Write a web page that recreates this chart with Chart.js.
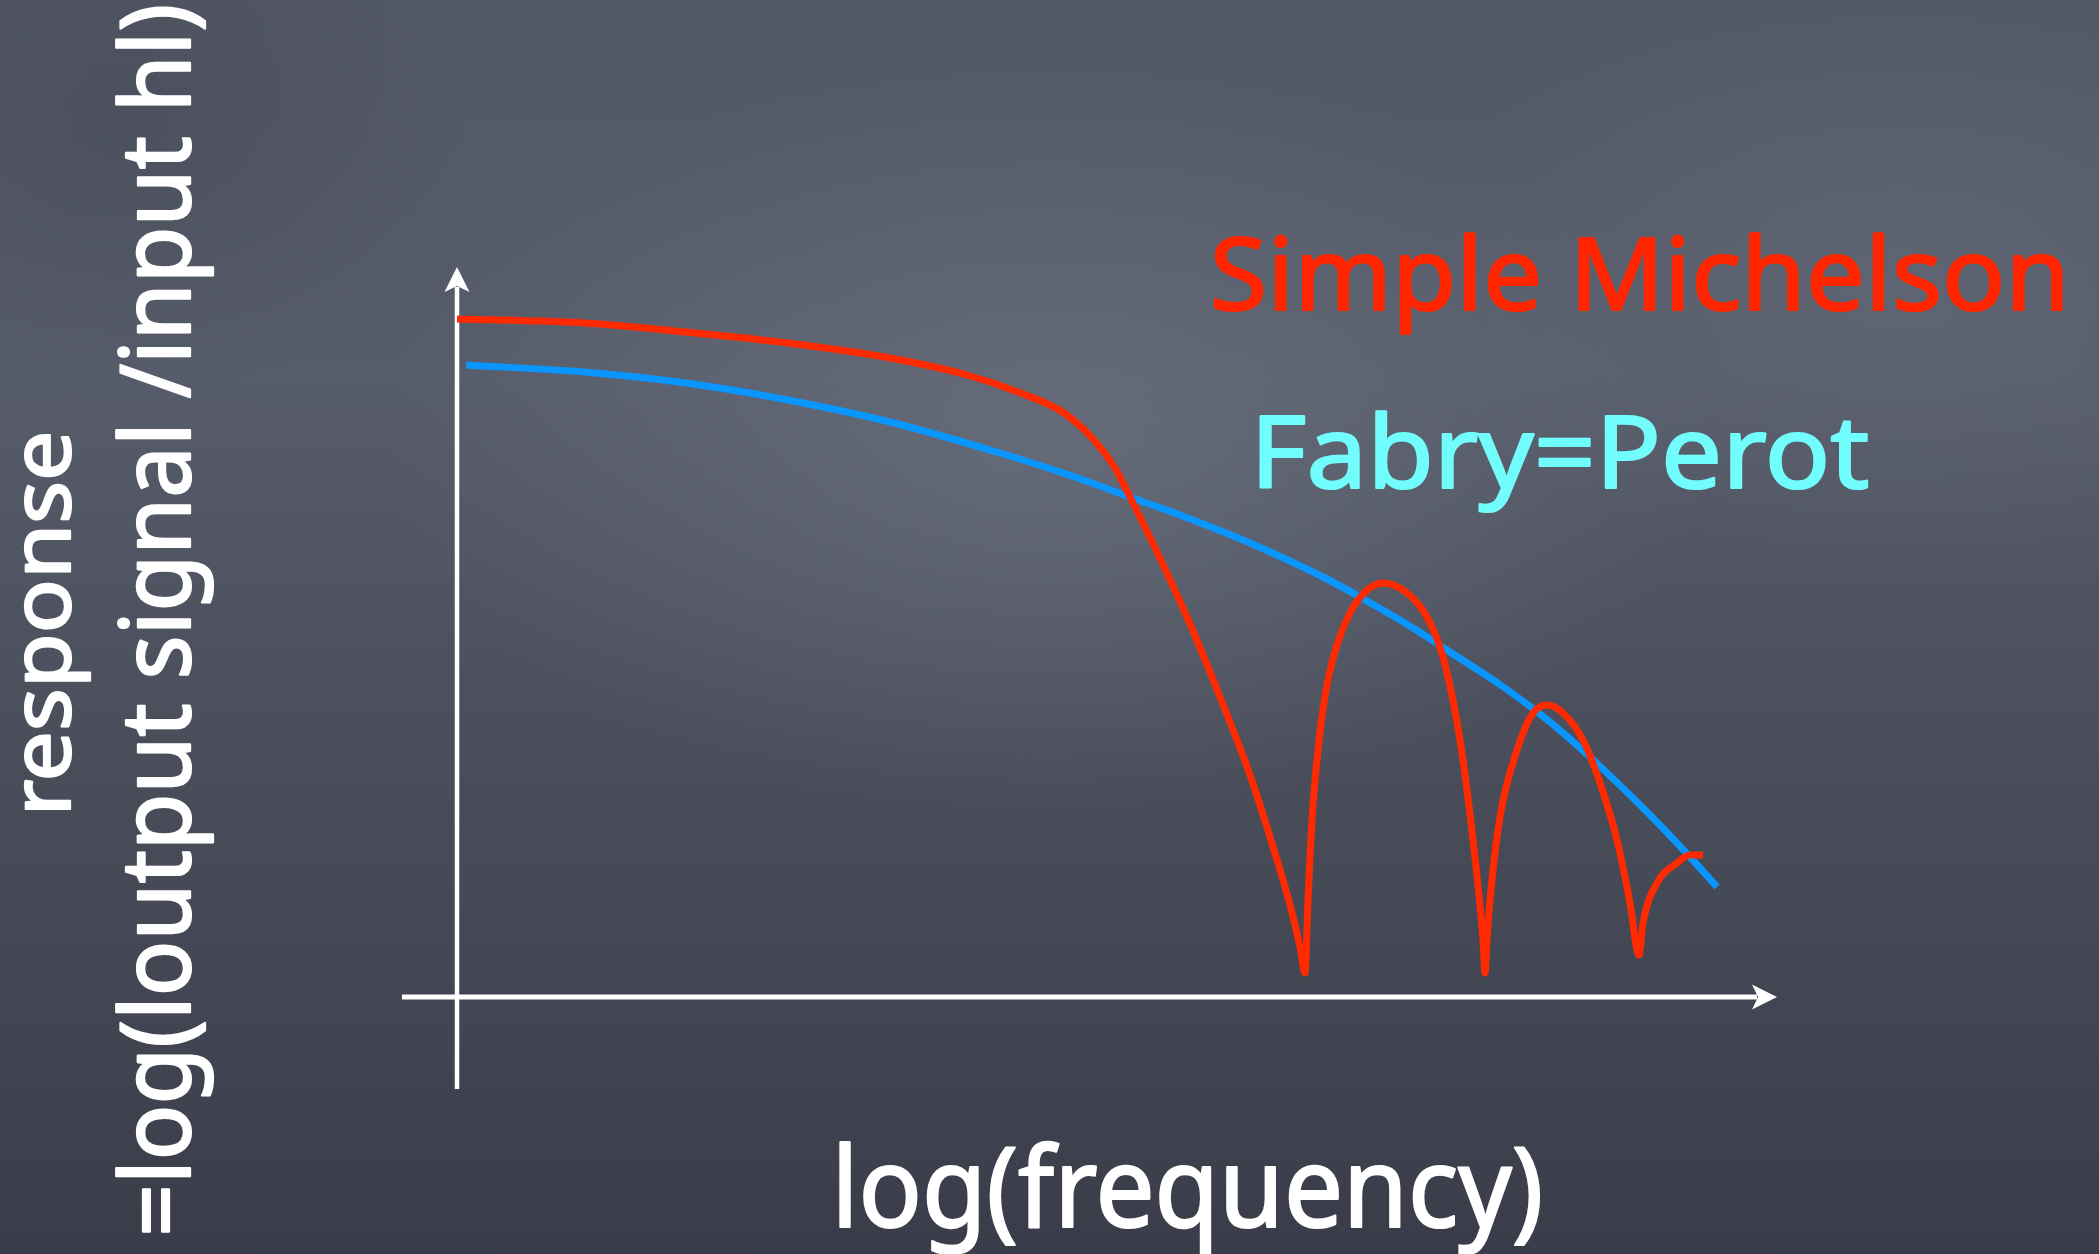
<!DOCTYPE html>
<html>
<head>
<meta charset="utf-8">
<title>Simple Michelson vs Fabry=Perot response</title>
<script src="https://cdn.jsdelivr.net/npm/chart.js@4.4.0/dist/chart.umd.min.js"></script>
<style>
  html, body { margin: 0; padding: 0; width: 2099px; height: 1254px; overflow: hidden; }
  body {
    background:
      radial-gradient(ellipse 950px 540px at 1050px 440px, rgba(112,118,132,0.6), rgba(112,118,132,0) 70%),
      radial-gradient(ellipse 700px 420px at 1900px 280px, rgba(106,112,126,0.45), rgba(106,112,126,0) 70%),
      radial-gradient(ellipse 500px 400px at 120px 120px, rgba(60,64,76,0.35), rgba(60,64,76,0) 70%),
      linear-gradient(to bottom, #535866 0%, #575c6a 30%, #494d5a 62%, #3a3d49 100%);
  }
  canvas { display: block; }
</style>
</head>
<body>
<canvas id="chart" width="2099" height="1254"></canvas>
<script>
// log(frequency) in arbitrary units, 0 sits on the vertical axis
const michelsonFreq = [0.00, 1.27, 2.29, 3.31, 4.33, 5.10, 5.61, 6.07, 6.37, 6.58, 6.73, 7.00, 7.33, 7.63, 7.93, 8.13, 8.33, 8.43, 8.48,
  8.51, 8.55, 8.61, 8.69, 8.80, 8.93, 9.08, 9.26, 9.50, 9.70, 9.86, 10.03, 10.16, 10.26, 10.28,
  10.30, 10.33, 10.43, 10.60, 10.76, 10.90, 11.06, 11.26, 11.43, 11.60, 11.73, 11.82,
  11.86, 12.00, 12.20, 12.33, 12.46];
const michelsonResp = [6.78, 6.74, 6.65, 6.54, 6.39, 6.22, 6.05, 5.84, 5.57, 5.29, 5.00, 4.45, 3.73, 3.00, 2.22, 1.60, 0.92, 0.50, 0.24,
  0.97, 1.77, 2.47, 3.07, 3.52, 3.84, 4.05, 4.14, 4.04, 3.80, 3.40, 2.57, 1.57, 0.57, 0.24,
  0.57, 0.97, 1.80, 2.47, 2.84, 2.92, 2.84, 2.57, 2.14, 1.57, 0.94, 0.42,
  0.74, 1.14, 1.34, 1.42, 1.42];

const fabryFreq = [0.09, 1.27, 2.29, 3.31, 4.33, 5.43, 6.12, 6.73, 7.23, 7.93, 8.66, 9.03, 9.56, 9.93, 10.45, 10.93, 11.33, 11.93, 12.33, 12.60];
const fabryResp = [6.32, 6.25, 6.14, 5.97, 5.75, 5.44, 5.22, 5.00, 4.82, 4.54, 4.20, 4.00, 3.69, 3.45, 3.11, 2.75, 2.40, 1.82, 1.40, 1.10];

const seriesNames = ['Simple Michelson', 'Fabry=Perot'];
const seriesColors = ['#ff2a00', '#0a96ff'];
const labelColors = ['#ff2600', '#72fdfd'];
const xTitle = 'log(frequency)';
const yTitle = ['response', '=log(loutput signal /input hl)'];

const FONT = '"Noto Sans", "DejaVu Sans", sans-serif';

function toPoints(xs, ys) {
  return xs.map((x, i) => ({ x: x, y: ys[i] }));
}

// draws text along the current baseline, sized by ascent and stretched to a length
function fitText(ctx, text, length, ascent, color) {
  ctx.font = '100px ' + FONT;
  let m = ctx.measureText(text);
  const size = 100 * ascent / m.actualBoundingBoxAscent;
  ctx.font = size.toFixed(1) + 'px ' + FONT;
  m = ctx.measureText(text);
  const w = m.actualBoundingBoxLeft + m.actualBoundingBoxRight;
  ctx.scale(length / w, 1);
  ctx.fillStyle = color;
  ctx.strokeStyle = color;
  ctx.lineWidth = 2.2;
  ctx.lineJoin = 'round';
  ctx.textBaseline = 'alphabetic';
  ctx.fillText(text, m.actualBoundingBoxLeft, 0);
  ctx.strokeText(text, m.actualBoundingBoxLeft, 0);
}

function arrowHead(ctx, tx, ty, dx, dy) {
  // dx,dy: unit direction of the arrow
  const len = 25, half = 12.5, notch = 19;
  const px = -dy, py = dx;
  ctx.beginPath();
  ctx.moveTo(tx, ty);
  ctx.lineTo(tx - dx * len + px * half, ty - dy * len + py * half);
  ctx.lineTo(tx - dx * notch, ty - dy * notch);
  ctx.lineTo(tx - dx * len - px * half, ty - dy * len - py * half);
  ctx.closePath();
  ctx.fill();
}

const axesPlugin = {
  id: 'chalkAxes',
  beforeDatasetsDraw(chart) {
    const { ctx, scales: { x, y } } = chart;
    const x0 = x.getPixelForValue(0);
    const y0 = y.getPixelForValue(0);
    ctx.save();
    ctx.strokeStyle = '#ffffff';
    ctx.fillStyle = '#ffffff';
    ctx.lineWidth = 4.5;
    ctx.beginPath();
    ctx.moveTo(x0, y.bottom);
    ctx.lineTo(x0, y.top + 20);
    ctx.stroke();
    ctx.lineWidth = 5;
    ctx.beginPath();
    ctx.moveTo(x.left, y0);
    ctx.lineTo(x.right - 20, y0);
    ctx.stroke();
    arrowHead(ctx, x0, y.top, 0, -1);
    arrowHead(ctx, x.right, y0, 1, 0);
    ctx.restore();
  }
};

const labelsPlugin = {
  id: 'chalkLabels',
  afterDraw(chart) {
    const ctx = chart.ctx;

    ctx.save();
    ctx.translate(1215, 310);
    fitText(ctx, seriesNames[0], 847, 78, labelColors[0]);
    ctx.restore();

    ctx.save();
    ctx.translate(1260, 488);
    fitText(ctx, seriesNames[1], 607, 77, labelColors[1]);
    ctx.restore();

    ctx.save();
    ctx.translate(840, 1227);
    fitText(ctx, xTitle, 700, 86, '#ffffff');
    ctx.restore();

    ctx.save();
    ctx.translate(70, 810);
    ctx.rotate(-Math.PI / 2);
    fitText(ctx, yTitle[0], 375, 45, '#ffffff');
    ctx.restore();

    ctx.save();
    ctx.translate(190, 1232);
    ctx.rotate(-Math.PI / 2);
    fitText(ctx, yTitle[1], 1225, 75, '#ffffff');
    ctx.restore();
  }
};

new Chart(document.getElementById('chart'), {
  type: 'line',
  data: {
    datasets: [
      {
        label: seriesNames[0],
        data: toPoints(michelsonFreq, michelsonResp),
        borderColor: seriesColors[0],
        borderWidth: 7,
        cubicInterpolationMode: 'monotone',
        pointRadius: 0,
        fill: false
      },
      {
        label: seriesNames[1],
        data: toPoints(fabryFreq, fabryResp),
        borderColor: seriesColors[1],
        borderWidth: 7,
        cubicInterpolationMode: 'monotone',
        pointRadius: 0,
        fill: false
      }
    ]
  },
  options: {
    responsive: false,
    animation: false,
    devicePixelRatio: 1,
    layout: { padding: { left: 402, right: 322, top: 267, bottom: 165 } },
    plugins: { legend: { display: false }, tooltip: { enabled: false } },
    elements: { line: { borderCapStyle: 'butt', borderJoinStyle: 'round' } },
    scales: {
      x: { type: 'linear', min: -0.55, max: 13.2, display: false },
      y: { type: 'linear', min: -0.92, max: 7.3, display: false }
    }
  },
  plugins: [axesPlugin, labelsPlugin]
});
</script>
</body>
</html>
